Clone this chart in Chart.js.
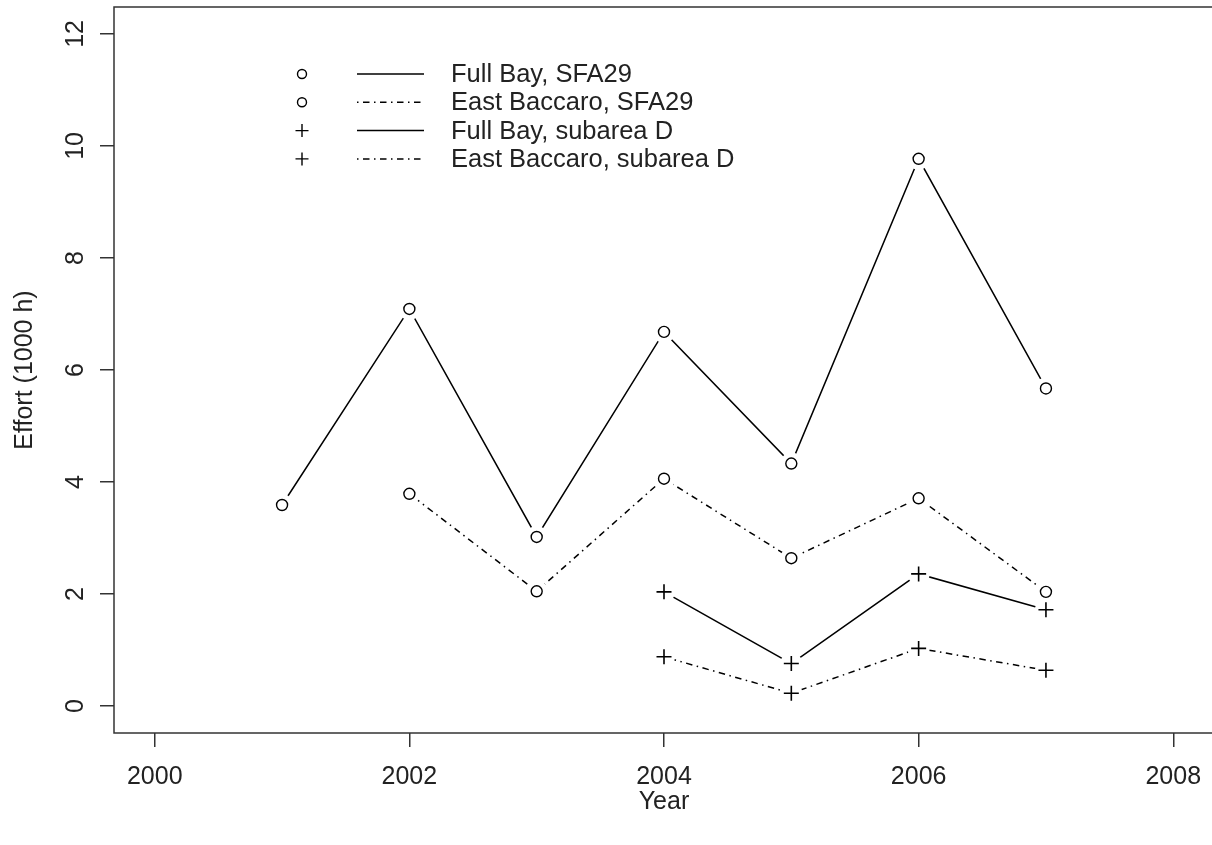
<!DOCTYPE html>
<html>
<head>
<meta charset="utf-8">
<script src="https://cdn.jsdelivr.net/npm/chart.js@4/dist/chart.umd.min.js"></script>
<style>
  html, body { margin: 0; padding: 0; overflow: hidden; background: #fff; width: 1212px; height: 845px; }
  #wrap { position: absolute; left: 0; top: 0; width: 1220px; height: 845px; }
</style>
</head>
<body>
<div id="wrap"><canvas id="c" width="1220" height="845"></canvas></div>
<script>
// Fishing effort (thousand hours) by year
const years = [2001, 2002, 2003, 2004, 2005, 2006, 2007];
const fullBaySFA29      = [3.59, 7.09, 3.02, 6.68, 4.33, 9.77, 5.67];
const eastBaccaroSFA29  = [null, 3.79, 2.05, 4.06, 2.64, 3.71, 2.04];
const fullBaySubD       = [null, null, null, 2.04, 0.76, 2.36, 1.72];
const eastBaccaroSubD   = [null, null, null, 0.88, 0.23, 1.03, 0.64];
const seriesNames = ['Full Bay, SFA29', 'East Baccaro, SFA29', 'Full Bay, subarea D', 'East Baccaro, subarea D'];
const xTicks = [2000, 2002, 2004, 2006, 2008];
const yTicks = [0, 2, 4, 6, 8, 10, 12];

const FONT = 'Liberation Sans, Arial, sans-serif';
const INK = '#222';
const DOTDASH = [1.5, 4.5, 6.5, 4.5];

const toPoints = vals => years.map((yr, i) => ({ x: yr, y: vals[i] }));

function series(label, vals, style, dash) {
  return {
    label,
    data: toPoints(vals),
    borderColor: '#000',
    backgroundColor: 'rgba(0,0,0,0)',
    borderWidth: 1.5,
    borderDash: dash,
    pointStyle: style,
    pointRadius: style === 'cross' ? 7.5 : 5.5,
    pointBorderWidth: style === 'cross' ? 1.6 : 1.4,
    pointBorderColor: '#000',
    pointBackgroundColor: 'rgba(0,0,0,0)',
    tension: 0,
    spanGaps: false
  };
}

// Lines stop short of each symbol (both points and lines style)
const pointGaps = {
  id: 'pointGaps',
  afterDatasetsDraw(chart, args, opts) {
    const ctx = chart.ctx;
    ctx.save();
    ctx.fillStyle = '#fff';
    chart.data.datasets.forEach((ds, i) => {
      chart.getDatasetMeta(i).data.forEach(pt => {
        if (pt.skip) return;
        ctx.beginPath();
        ctx.arc(pt.x, pt.y, opts.radius, 0, Math.PI * 2);
        ctx.fill();
      });
    });
    ctx.restore();
    chart.data.datasets.forEach((ds, i) => {
      chart.getDatasetMeta(i).data.forEach(pt => {
        if (!pt.skip) pt.draw(ctx, chart.chartArea);
      });
    });
  }
};

// Frame around the plotting region
const frame = {
  id: 'frame',
  afterDraw(chart) {
    const { ctx, chartArea: a } = chart;
    ctx.save();
    ctx.strokeStyle = '#333';
    ctx.lineWidth = 1.5;
    ctx.strokeRect(a.left, a.top, a.right - a.left, a.bottom - a.top);
    ctx.restore();
  }
};

function drawSymbol(ctx, style, x, y, r, w) {
  ctx.save();
  ctx.strokeStyle = '#000';
  ctx.lineWidth = w;
  ctx.setLineDash([]);
  ctx.beginPath();
  if (style === 'cross') {
    ctx.moveTo(x - r, y); ctx.lineTo(x + r, y);
    ctx.moveTo(x, y - r); ctx.lineTo(x, y + r);
  } else {
    ctx.arc(x, y, r, 0, Math.PI * 2);
  }
  ctx.stroke();
  ctx.restore();
}

// Key without a box: symbol, line sample, label
const key = {
  id: 'key',
  afterDraw(chart, args, o) {
    const ctx = chart.ctx;
    chart.data.datasets.forEach((ds, i) => {
      const y = o.top + i * o.rowGap;
      drawSymbol(ctx, ds.pointStyle, o.symbolX, y, ds.pointStyle === 'cross' ? 6.5 : 4.5, 1.4);
      ctx.save();
      ctx.strokeStyle = '#000';
      ctx.lineWidth = ds.borderWidth;
      ctx.setLineDash(ds.borderDash || []);
      ctx.beginPath();
      ctx.moveTo(o.lineX0, y);
      ctx.lineTo(o.lineX1, y);
      ctx.stroke();
      ctx.restore();
      ctx.save();
      ctx.fillStyle = INK;
      ctx.font = '25.5px ' + FONT;
      ctx.textBaseline = 'middle';
      ctx.textAlign = 'left';
      ctx.fillText(ds.label, o.textX, y + 1);
      ctx.restore();
    });
  }
};

new Chart(document.getElementById('c'), {
  type: 'line',
  data: {
    datasets: [
      series(seriesNames[0], fullBaySFA29, 'circle', []),
      series(seriesNames[1], eastBaccaroSFA29, 'circle', DOTDASH),
      series(seriesNames[2], fullBaySubD, 'cross', []),
      series(seriesNames[3], eastBaccaroSubD, 'cross', DOTDASH)
    ]
  },
  options: {
    responsive: false,
    animation: false,
    devicePixelRatio: 1,
    layout: { autoPadding: false, padding: { top: 7, right: 6, bottom: 0, left: 0 } },
    plugins: {
      legend: { display: false },
      tooltip: { enabled: false },
      pointGaps: { radius: 11 },
      key: { symbolX: 302, lineX0: 357, lineX1: 424, textX: 451, top: 74, rowGap: 28.3 }
    },
    scales: {
      x: {
        type: 'linear',
        min: 1999.68,
        max: 2008.32,
        afterBuildTicks: s => { s.ticks = xTicks.map(v => ({ value: v })); },
        afterFit: s => { s.height = 112; s.paddingLeft = 0; s.paddingRight = 0; },
        grid: { display: true, drawOnChartArea: false, drawTicks: true, tickLength: 14, color: '#333', lineWidth: 1.5 },
        border: { display: false },
        ticks: {
          autoSkip: false, maxRotation: 0, padding: 15,
          color: INK, font: { family: FONT, size: 25 },
          callback: v => String(v)
        },
        title: { display: true, text: 'Year', color: INK, font: { family: FONT, size: 25 }, padding: { top: 0, bottom: 28 } }
      },
      y: {
        type: 'linear',
        min: -0.48,
        max: 12.48,
        afterBuildTicks: s => { s.ticks = yTicks.map(v => ({ value: v })); },
        afterFit: s => { s.width = 114; s.paddingTop = 0; s.paddingBottom = 0; },
        grid: { display: true, drawOnChartArea: false, drawTicks: true, tickLength: 14, color: '#333', lineWidth: 1.5 },
        border: { display: false },
        ticks: {
          autoSkip: false, minRotation: 90, maxRotation: 90, crossAlign: 'center', padding: 10,
          color: INK, font: { family: FONT, size: 25 },
          callback: v => String(v)
        },
        title: { display: true, text: 'Effort (1000 h)', color: INK, font: { family: FONT, size: 25 }, padding: { top: 10, bottom: 0 } }
      }
    }
  },
  plugins: [pointGaps, frame, key]
});
</script>
</body>
</html>
